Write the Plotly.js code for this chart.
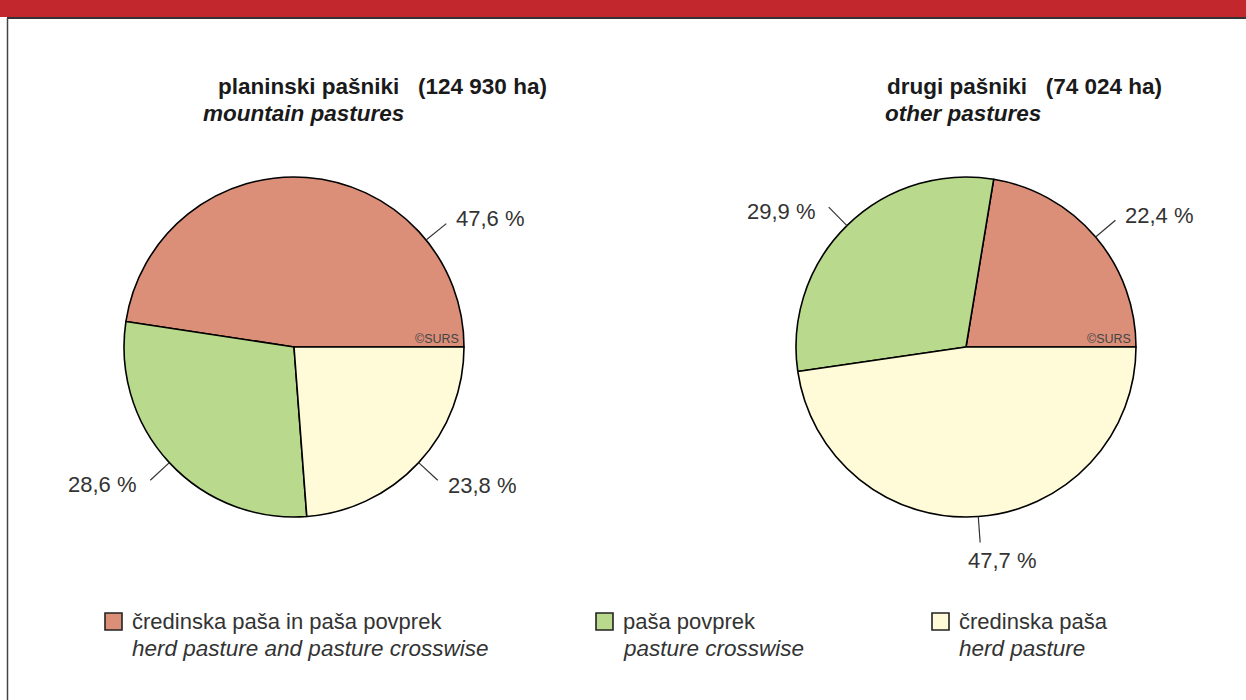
<!DOCTYPE html>
<html>
<head>
<meta charset="utf-8">
<script src="https://cdn.plot.ly/plotly-3.0.1.min.js"></script>
<style>
  html, body { margin: 0; padding: 0; background: #ffffff; }
  #chart { width: 1246px; height: 700px; }
</style>
</head>
<body>
<div id="chart"></div>
<script>
// ---- data ----
const categoriesSl = ['čredinska paša in paša povprek', 'paša povprek', 'čredinska paša'];
const categoriesEn = ['herd pasture and pasture crosswise', 'pasture crosswise', 'herd pasture'];
const mountainShares = [47.6, 28.6, 23.8];
const otherShares = [22.4, 29.9, 47.7];
const pieTitlesSl = ['planinski pašniki', 'drugi pašniki'];
const pieAreas = ['124 930 ha', '74 024 ha'];
const pieTitlesEn = ['mountain pastures', 'other pastures'];
const sourceNote = '©SURS';

// ---- style / layout ----
const W = 1246, H = 700;
const colors = ['#DB8F79', '#B9DA8C', '#FFFAD7'];
const FONT = '"Liberation Sans", Arial, Helvetica, sans-serif';
const TXT = '#333333';
const pies = [
  { cx: 294, cy: 347, R: 170, values: mountainShares, labelAngle: { 0: 39 },
    t1x: 382, t2x: 303, srcx: 461 },
  { cx: 966, cy: 347, R: 170, values: otherShares, labelAngle: {},
    t1x: 1024, t2x: 963, srcx: 1133 }
];
const px = x => x / W;
const py = y => 1 - y / H;
const fmt = v => v.toFixed(1).replace('.', ',') + '\u00a0%';

const traces = [];
const shapes = [];
const annotations = [];

pies.forEach((p, i) => {
  const total = p.values.reduce((a, b) => a + b, 0);
  // first slice should run counterclockwise from 3 o'clock
  const rot = 90 - 360 * p.values[0] / total;
  traces.push({
    type: 'pie',
    values: p.values,
    labels: categoriesSl,
    sort: false,
    direction: 'counterclockwise',
    rotation: rot,
    textinfo: 'none',
    hoverinfo: 'label+percent',
    marker: { colors: colors, line: { color: '#000000', width: 1.6 } },
    domain: { x: [px(p.cx - p.R), px(p.cx + p.R)], y: [py(p.cy + p.R), py(p.cy - p.R)] },
    showlegend: false
  });

  // outside labels with leader lines, computed from the slice values
  let cum = 0;
  p.values.forEach((v, k) => {
    const start = cum / total * 360;
    cum += v;
    const end = cum / total * 360;
    let ang = (start + end) / 2;
    if (p.labelAngle[k] !== undefined) ang = p.labelAngle[k];
    const a = ang * Math.PI / 180;
    const c = Math.cos(a), s = Math.sin(a);
    const x0 = p.cx + p.R * c, y0 = p.cy - p.R * s;
    const x1 = p.cx + (p.R + 26) * c, y1 = p.cy - (p.R + 26) * s;
    shapes.push({ type: 'line', xref: 'paper', yref: 'paper',
      x0: px(x0), y0: py(y0), x1: px(x1), y1: py(y1),
      line: { color: '#333333', width: 1.2 } });
    let xa, ya = 'middle', lx, ly;
    if (c > 0.3) { xa = 'left'; lx = x1 + 8; ly = y1 - s * 8; }
    else if (c < -0.3) { xa = 'right'; lx = x1 - 11; ly = y1 + 4; }
    else { xa = 'left'; lx = x1 - 14; ya = s < 0 ? 'top' : 'bottom'; ly = y1 + (s < 0 ? 4 : -4); }
    annotations.push({ xref: 'paper', yref: 'paper', x: px(lx), y: py(ly),
      xanchor: xa, yanchor: ya, showarrow: false, text: fmt(v),
      font: { family: FONT, size: 22, color: TXT } });
  });

  // titles
  annotations.push({ xref: 'paper', yref: 'paper', x: px(p.t1x), y: py(86),
    xanchor: 'center', yanchor: 'middle', showarrow: false,
    text: '<b>' + pieTitlesSl[i] + '\u00a0\u00a0\u00a0(' + pieAreas[i] + ')</b>',
    font: { family: FONT, size: 22.5, color: '#1a1a1a' } });
  annotations.push({ xref: 'paper', yref: 'paper', x: px(p.t2x), y: py(114),
    xanchor: 'center', yanchor: 'middle', showarrow: false,
    text: '<b><i>' + pieTitlesEn[i] + '</i></b>',
    font: { family: FONT, size: 22.5, color: '#1a1a1a' } });
  // source note
  annotations.push({ xref: 'paper', yref: 'paper', x: px(p.srcx), y: py(339),
    xanchor: 'right', yanchor: 'middle', showarrow: false, text: sourceNote,
    font: { family: FONT, size: 12.5, color: '#444444' } });
});

// legend (manual)
const legendX = [105, 596, 932];
categoriesSl.forEach((cat, k) => {
  const x = legendX[k];
  shapes.push({ type: 'rect', xref: 'paper', yref: 'paper',
    x0: px(x), x1: px(x + 17), y0: py(630), y1: py(613),
    fillcolor: colors[k], line: { color: '#222222', width: 1.6 } });
  annotations.push({ xref: 'paper', yref: 'paper', x: px(x + 25), y: py(621),
    xanchor: 'left', yanchor: 'middle', showarrow: false, text: cat,
    font: { family: FONT, size: 22, color: TXT } });
  annotations.push({ xref: 'paper', yref: 'paper', x: px(x + 25), y: py(648),
    xanchor: 'left', yanchor: 'middle', showarrow: false, text: '<i>' + categoriesEn[k] + '</i>',
    font: { family: FONT, size: 22.5, color: TXT } });
});

// frame: red banner and border
shapes.push({ type: 'rect', xref: 'paper', yref: 'paper', layer: 'below',
  x0: 0, x1: 1, y0: py(17), y1: 1, fillcolor: '#C1272D', line: { width: 0 } });
shapes.push({ type: 'line', xref: 'paper', yref: 'paper',
  x0: px(7), x1: 1, y0: py(18), y1: py(18), line: { color: '#333333', width: 2 } });
shapes.push({ type: 'line', xref: 'paper', yref: 'paper',
  x0: px(7.5), x1: px(7.5), y0: py(18), y1: 0, line: { color: '#444444', width: 1.5 } });

const layout = {
  width: W, height: H,
  margin: { l: 0, r: 0, t: 0, b: 0 },
  paper_bgcolor: '#ffffff',
  plot_bgcolor: '#ffffff',
  showlegend: false,
  shapes: shapes,
  annotations: annotations,
  font: { family: FONT }
};

Plotly.newPlot('chart', traces, layout, { displayModeBar: false, staticPlot: true });
</script>
</body>
</html>
